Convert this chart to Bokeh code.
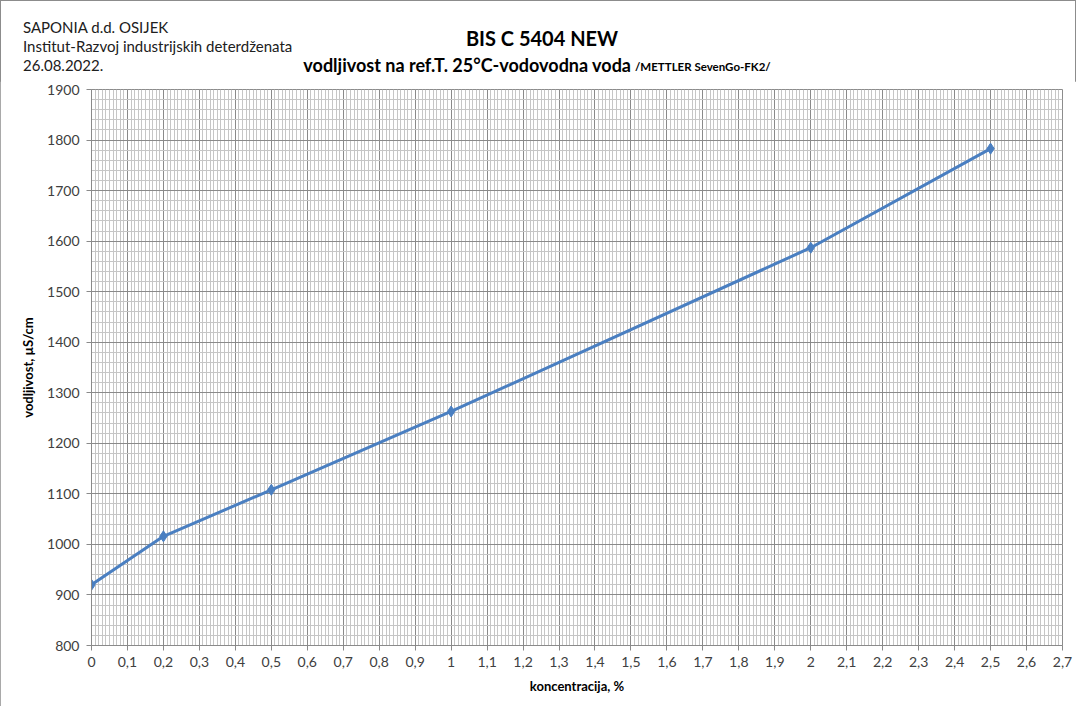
import numpy as np
from bokeh.plotting import figure
from bokeh.layouts import column
from bokeh.models import FixedTicker, ColumnDataSource, Range1d, CustomJSTickFormatter, Div
from bokeh.embed import file_html
from bokeh.resources import INLINE

# ---- data ----
konc = [0.0, 0.2, 0.5, 1.0, 2.0, 2.5]
vodljivost = [920, 1016, 1108, 1263, 1587, 1783]

x_ticks = [0.0, 0.1, 0.2, 0.3, 0.4, 0.5, 0.6, 0.7, 0.8, 0.9, 1.0, 1.1, 1.2, 1.3,
           1.4, 1.5, 1.6, 1.7, 1.8, 1.9, 2.0, 2.1, 2.2, 2.3, 2.4, 2.5, 2.6, 2.7]
x_tick_labels = ["0", "0,1", "0,2", "0,3", "0,4", "0,5", "0,6", "0,7", "0,8", "0,9",
                 "1", "1,1", "1,2", "1,3", "1,4", "1,5", "1,6", "1,7", "1,8", "1,9",
                 "2", "2,1", "2,2", "2,3", "2,4", "2,5", "2,6", "2,7"]
y_ticks = [800, 900, 1000, 1100, 1200, 1300, 1400, 1500, 1600, 1700, 1800, 1900]

header_lines = ["SAPONIA d.d. OSIJEK", "Institut-Razvoj industrijskih deterdženata", "26.08.2022."]
title_text = "BIS C 5404 NEW"
subtitle_main = "vodljivost na ref.T. 25°C-vodovodna voda"
subtitle_small = "/METTLER SevenGo-FK2/"
x_label = "koncentracija, %"
y_label = "vodljivost, µS/cm"

FONT = "Lato"
BLUE = "#4a7fc1"
W = 1076
HEAD_H = 81


# ---- header (title block) ----
def span(txt, size, weight, color, top, left=None, right=None, center=None):
    pos = ""
    if left is not None:
        pos = f"left:{left}px;"
    elif right is not None:
        pos = f"right:{right}px;"
    else:
        pos = f"left:{center}px;transform:translateX(-50%);"
    return (f'<span style="position:absolute;{pos}top:{top:.1f}px;font-family:{FONT};'
            f'font-size:{size}px;font-weight:{weight};color:{color};line-height:1;'
            f'white-space:nowrap;">{txt}</span>')


parts = []
for i, line in enumerate(header_lines):
    yc = 28 + 19.3 * i
    parts.append(span(line, 15, "normal", "#202020", yc - 0.55 * 15, left=23))
parts.append(span(title_text, 20, "bold", "#000000", 39 - 0.55 * 20, center=542))
parts.append(span(subtitle_main, 18, "bold", "#000000", 66 - 0.55 * 18, right=W - 631))
parts.append(span(subtitle_small, 11.5, "bold", "#000000", 67 - 0.55 * 11.5, left=635))

header = Div(text=f'<div style="position:relative;width:{W}px;height:{HEAD_H}px;">' + "".join(parts) + "</div>",
             width=W, height=HEAD_H, styles={"margin": "0", "padding": "0"})

# ---- main chart ----
p = figure(width=W, height=706 - HEAD_H, output_backend="svg", toolbar_location=None,
           x_range=Range1d(0, 2.7), y_range=Range1d(800, 1900),
           min_border_left=91, min_border_right=14, min_border_top=8, min_border_bottom=61)
p.background_fill_color = "white"
p.border_fill_color = "white"
p.outline_line_color = "#8c8c8c"

p.xaxis.ticker = FixedTicker(ticks=x_ticks, minor_ticks=list(np.round(np.arange(0, 2.7001, 0.01), 3)))
p.yaxis.ticker = FixedTicker(ticks=y_ticks, minor_ticks=list(np.arange(800, 1901, 20)))
p.xaxis.formatter = CustomJSTickFormatter(args=dict(tv=x_ticks, tl=x_tick_labels), code="""
    for (let i = 0; i < tv.length; i++) { if (Math.abs(tv[i] - tick) < 1e-6) return tl[i]; }
    return '';
""")

for g in (p.xgrid, p.ygrid):
    g.grid_line_color = "#8a8a8a"
    g.grid_line_width = 1
    g.minor_grid_line_color = "#c6c6c6"
    g.minor_grid_line_width = 1

for ax in (p.xaxis, p.yaxis):
    ax.axis_line_color = "#8a8a8a"
    ax.major_tick_line_color = "#8a8a8a"
    ax.major_tick_out = 5
    ax.major_tick_in = 0
    ax.minor_tick_line_color = None
    ax.major_label_text_font = FONT
    ax.major_label_text_font_size = "14px"
    ax.major_label_text_color = "#404040"
    ax.axis_label_text_font = FONT
    ax.axis_label_text_font_size = "13px"
    ax.axis_label_text_font_style = "bold"
    ax.axis_label_text_color = "#000000"

p.xaxis.axis_label = x_label
p.yaxis.axis_label = y_label
p.xaxis.major_label_standoff = 6
p.xaxis.axis_label_standoff = 8
p.yaxis.major_label_standoff = 7
p.yaxis.axis_label_standoff = 8

src = ColumnDataSource(dict(x=konc, y=vodljivost))
p.line("x", "y", source=src, line_color=BLUE, line_width=3)
p.scatter("x", "y", source=src, marker="diamond", size=11, fill_color=BLUE, line_color=BLUE)

page = column(header, p, spacing=0)
page.styles = {"outline": "1px solid #8c8c8c", "outline-offset": "-1px", "background": "white"}

open("out.html", "w").write(file_html(page, INLINE))
